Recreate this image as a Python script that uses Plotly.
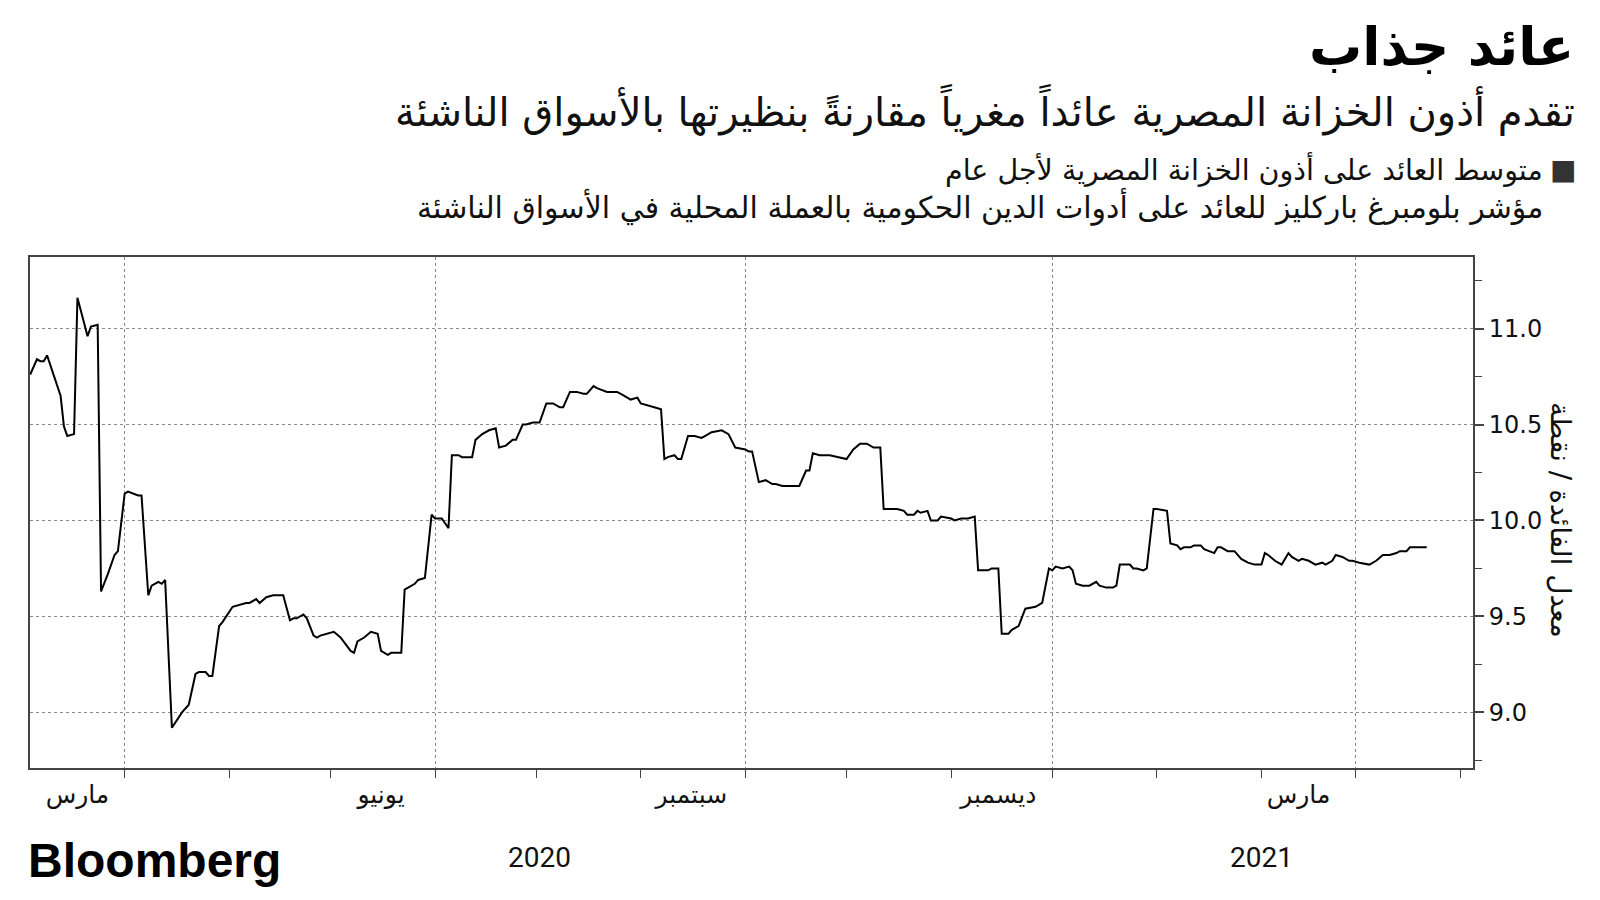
import plotly.graph_objects as go

# ---------------- data ----------------
dates = [
"2020-02-02","2020-02-04","2020-02-05","2020-02-06","2020-02-07","2020-02-09","2020-02-11","2020-02-12","2020-02-13","2020-02-15",
"2020-02-16","2020-02-19","2020-02-20","2020-02-22","2020-02-23","2020-02-25","2020-02-27","2020-02-28","2020-03-01","2020-03-02",
"2020-03-05","2020-03-06","2020-03-08","2020-03-09","2020-03-11","2020-03-12","2020-03-13","2020-03-15","2020-03-18","2020-03-20",
"2020-03-22","2020-03-23","2020-03-25","2020-03-26","2020-03-27","2020-03-29","2020-03-30","2020-04-02","2020-04-04","2020-04-06",
"2020-04-07","2020-04-09","2020-04-10","2020-04-12","2020-04-14","2020-04-17","2020-04-19","2020-04-20","2020-04-21","2020-04-23",
"2020-04-24","2020-04-26","2020-04-27","2020-04-28","2020-05-02","2020-05-04","2020-05-07","2020-05-08","2020-05-09","2020-05-11",
"2020-05-13","2020-05-15","2020-05-16","2020-05-18","2020-05-19","2020-05-22","2020-05-23","2020-05-26","2020-05-27","2020-05-29",
"2020-05-31","2020-06-01","2020-06-03","2020-06-05","2020-06-06","2020-06-08","2020-06-09","2020-06-12","2020-06-13","2020-06-15",
"2020-06-17","2020-06-19","2020-06-20","2020-06-22","2020-06-24","2020-06-25","2020-06-27","2020-06-28","2020-06-30","2020-07-02",
"2020-07-04","2020-07-06","2020-07-08","2020-07-09","2020-07-11","2020-07-13","2020-07-15","2020-07-16","2020-07-18","2020-07-19",
"2020-07-22","2020-07-25","2020-07-27","2020-07-29","2020-07-31","2020-08-01","2020-08-05","2020-08-07","2020-08-08","2020-08-09",
"2020-08-11","2020-08-12","2020-08-13","2020-08-15","2020-08-17","2020-08-19","2020-08-20","2020-08-22","2020-08-25","2020-08-27",
"2020-08-29","2020-09-01","2020-09-02","2020-09-03","2020-09-05","2020-09-07","2020-09-09","2020-09-10","2020-09-12","2020-09-13",
"2020-09-15","2020-09-17","2020-09-19","2020-09-20","2020-09-21","2020-09-23","2020-09-26","2020-09-29","2020-10-01","2020-10-03",
"2020-10-05","2020-10-07","2020-10-09","2020-10-11","2020-10-12","2020-10-16","2020-10-18","2020-10-19","2020-10-21","2020-10-22",
"2020-10-23","2020-10-25","2020-10-26","2020-10-28","2020-10-29","2020-11-01","2020-11-02","2020-11-04","2020-11-06","2020-11-08",
"2020-11-09","2020-11-12","2020-11-13","2020-11-15","2020-11-16","2020-11-18","2020-11-19","2020-11-21","2020-11-23","2020-11-26",
"2020-11-28","2020-11-30","2020-12-01","2020-12-02","2020-12-04","2020-12-06","2020-12-07","2020-12-08","2020-12-10","2020-12-12",
"2020-12-14","2020-12-15","2020-12-17","2020-12-19","2020-12-20","2020-12-21","2020-12-24","2020-12-25","2020-12-26","2020-12-28",
"2020-12-29","2020-12-31","2021-01-01","2021-01-04","2021-01-05","2021-01-07","2021-01-08","2021-01-09","2021-01-11","2021-01-12",
"2021-01-14","2021-01-15","2021-01-18","2021-01-19","2021-01-20","2021-01-22","2021-01-24","2021-01-26","2021-01-28","2021-01-30",
"2021-02-01","2021-02-02","2021-02-03","2021-02-05","2021-02-07","2021-02-09","2021-02-10","2021-02-12","2021-02-13","2021-02-15",
"2021-02-17","2021-02-19","2021-02-20","2021-02-22","2021-02-23","2021-02-25","2021-02-27","2021-02-28","2021-03-02","2021-03-05",
"2021-03-06","2021-03-07","2021-03-09","2021-03-11","2021-03-13","2021-03-14","2021-03-16","2021-03-17","2021-03-20","2021-03-22",
]

egypt_tbill_yield = [
10.76, 10.84, 10.83, 10.83, 10.86, 10.75, 10.65, 10.49, 10.44, 10.45,
11.16, 10.96, 11.01, 11.02, 9.63, 9.72, 9.82, 9.84, 10.14, 10.15,
10.13, 10.13, 9.61, 9.66, 9.68, 9.67, 9.69, 8.92, 9.00, 9.04,
9.20, 9.21, 9.21, 9.19, 9.19, 9.45, 9.47, 9.55, 9.56, 9.57,
9.57, 9.59, 9.57, 9.60, 9.61, 9.61, 9.48, 9.49, 9.49, 9.51,
9.49, 9.40, 9.39, 9.40, 9.42, 9.39, 9.32, 9.31, 9.37, 9.39,
9.42, 9.41, 9.32, 9.30, 9.31, 9.31, 9.64, 9.67, 9.69, 9.70,
10.03, 10.01, 10.01, 9.96, 10.34, 10.34, 10.33, 10.33, 10.42, 10.45,
10.47, 10.48, 10.38, 10.39, 10.42, 10.42, 10.50, 10.50, 10.51, 10.51,
10.61, 10.61, 10.59, 10.59, 10.67, 10.67, 10.66, 10.66, 10.70, 10.69,
10.67, 10.67, 10.65, 10.63, 10.64, 10.61, 10.59, 10.58, 10.32, 10.33,
10.34, 10.32, 10.32, 10.44, 10.44, 10.43, 10.44, 10.46, 10.47, 10.45,
10.38, 10.37, 10.36, 10.36, 10.20, 10.21, 10.19, 10.19, 10.18, 10.18,
10.18, 10.18, 10.26, 10.26, 10.35, 10.34, 10.34, 10.33, 10.32, 10.37,
10.40, 10.40, 10.38, 10.38, 10.06, 10.06, 10.05, 10.03, 10.03, 10.05,
10.04, 10.05, 10.00, 10.00, 10.02, 10.01, 10.00, 10.01, 10.01, 10.02,
9.74, 9.74, 9.75, 9.75, 9.41, 9.41, 9.43, 9.45, 9.54, 9.55,
9.57, 9.75, 9.74, 9.76, 9.75, 9.76, 9.74, 9.67, 9.66, 9.66,
9.68, 9.66, 9.65, 9.65, 9.66, 9.77, 9.77, 9.75, 9.75, 9.74,
9.75, 10.06, 10.06, 10.05, 9.88, 9.87, 9.85, 9.86, 9.86, 9.87,
9.87, 9.85, 9.83, 9.86, 9.86, 9.84, 9.84, 9.80, 9.78, 9.77,
9.77, 9.83, 9.82, 9.79, 9.77, 9.83, 9.81, 9.79, 9.80, 9.79,
9.77, 9.78, 9.77, 9.79, 9.82, 9.81, 9.79, 9.79, 9.78, 9.77,
9.78, 9.79, 9.82, 9.82, 9.83, 9.84, 9.84, 9.86, 9.86, 9.86,
]

grid_dates = ["2020-03-01", "2020-06-01", "2020-09-01", "2020-12-01", "2021-03-01"]
month_label_dates = ["2020-02-16", "2020-05-16", "2020-08-16", "2020-11-15", "2021-02-12"]
month_labels = ["مارس", "يونيو", "سبتمبر", "ديسمبر", "مارس"]
year_label_dates = ["2020-07-02", "2021-02-01"]
year_labels = ["2020", "2021"]
y_tickvals = [9.0, 9.5, 10.0, 10.5, 11.0]
y_ticktext = ["9.0", "9.5", "10.0", "10.5", "11.0"]
x_range = ["2020-02-01 22:30", "2021-04-04 17:00"]
y_range = [8.71, 11.373]

title = "عائد جذاب"
subtitle = "تقدم أذون الخزانة المصرية عائداً مغرياً مقارنةً بنظيرتها بالأسواق الناشئة"
legend1 = "متوسط العائد على أذون الخزانة المصرية لأجل عام"
legend2 = "مؤشر بلومبرغ باركليز للعائد على أدوات الدين الحكومية بالعملة المحلية في الأسواق الناشئة"
y_title = "معدل الفائدة / نقطة"

# ---------------- layout geometry ----------------
FW, FH = 1600, 900
L, R, T, B = 30, 1473, 257, 768
W, H = R - L, B - T

def px(x):
    return (x - L) / W

def py(y):
    return (B - y) / H

AR = "DejaVu Sans"
AXC = "#444444"
GRIDC = "#8a8a8a"

fig = go.Figure()
fig.add_trace(go.Scatter(
    x=dates, y=egypt_tbill_yield, mode="lines",
    line=dict(color="#000000", width=2), showlegend=False, xaxis="x", yaxis="y",
))
# invisible trace to activate the label axis
fig.add_trace(go.Scatter(x=[dates[0]], y=[egypt_tbill_yield[0]], mode="markers",
                         marker=dict(opacity=0), showlegend=False, hoverinfo="skip",
                         xaxis="x2", yaxis="y"))

annotations = [
    dict(text=f"<b>{title}</b>", x=px(1576), y=py(47), xref="paper", yref="paper",
         xanchor="right", yanchor="middle", showarrow=False,
         font=dict(family=AR, size=53, color="#000000")),
    dict(text=subtitle, x=px(1577), y=py(110), xref="paper", yref="paper",
         xanchor="right", yanchor="middle", showarrow=False,
         font=dict(family=AR, size=40, color="#111111")),
    dict(text="■", x=px(1578), y=py(170), xref="paper", yref="paper",
         xanchor="right", yanchor="middle", showarrow=False,
         font=dict(family="DejaVu Sans", size=28, color="#333333")),
    dict(text=legend1, x=px(1545), y=py(169), xref="paper", yref="paper",
         xanchor="right", yanchor="middle", showarrow=False,
         font=dict(family=AR, size=28.5, color="#111111")),
    dict(text=legend2, x=px(1545), y=py(207), xref="paper", yref="paper",
         xanchor="right", yanchor="middle", showarrow=False,
         font=dict(family=AR, size=30, color="#111111")),
    dict(text=y_title, x=px(1561), y=py(520), xref="paper", yref="paper",
         xanchor="center", yanchor="middle", showarrow=False, textangle=90,
         font=dict(family=AR, size=28, color="#111111")),
    dict(text="<b>Bloomberg</b>", x=px(26), y=py(860), xref="paper", yref="paper",
         xanchor="left", yanchor="middle", showarrow=False,
         font=dict(family="Liberation Sans", size=48, color="#000000")),
]
for d, t in zip(year_label_dates, year_labels):
    annotations.append(dict(text=t, x=d, y=py(857), xref="x", yref="paper",
                            xanchor="center", yanchor="middle", showarrow=False,
                            font=dict(family="Roboto", size=28, color="#111111")))

fig.update_layout(
    width=FW, height=FH,
    margin=dict(l=L, r=FW - R, t=T, b=FH - B, pad=0),
    paper_bgcolor="white", plot_bgcolor="white",
    showlegend=False,
    annotations=annotations,
    xaxis=dict(
        type="date", range=x_range,
        tickvals=grid_dates, showticklabels=False,
        showgrid=True, gridcolor=GRIDC, gridwidth=1, griddash="dot",
        ticks="outside", ticklen=8, tickcolor=AXC, tickwidth=1,
        minor=dict(ticks="outside", ticklen=8, tickcolor=AXC, tickwidth=1,
                   dtick="M1", tick0="2020-01-01", showgrid=False),
        showline=True, linecolor=AXC, linewidth=2, mirror=True,
        zeroline=False,
    ),
    xaxis2=dict(
        type="date", range=x_range, overlaying="x", side="bottom", matches="x",
        tickvals=month_label_dates, ticktext=month_labels,
        ticks="outside", ticklen=4, tickcolor="rgba(0,0,0,0)",
        showgrid=False, showline=False, zeroline=False,
        tickfont=dict(family=AR, size=25, color="#111111"),
    ),
    yaxis=dict(
        range=y_range, side="right",
        tickvals=y_tickvals, ticktext=y_ticktext,
        tickfont=dict(family="DejaVu Sans", size=24, color="#111111"),
        ticks="outside", ticklen=9, tickwidth=2, tickcolor=AXC,
        minor=dict(ticks="outside", ticklen=7, tickwidth=1, tickcolor=AXC,
                   dtick=0.25, tick0=0, showgrid=False),
        showgrid=True, gridcolor=GRIDC, gridwidth=1, griddash="dot",
        showline=True, linecolor=AXC, linewidth=2, mirror=True,
        zeroline=False,
    ),
)

fig.write_html("out.html")
